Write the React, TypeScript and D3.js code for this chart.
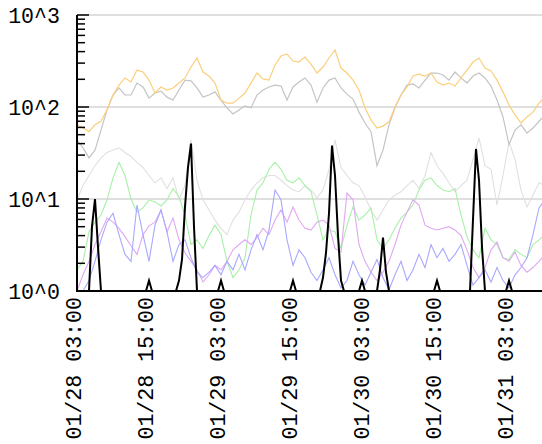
import React, { useEffect, useRef } from 'react';
import * as d3 from 'd3';

// hourly samples, first one at 01/28 03:00
const startTime = new Date(2024, 0, 28, 3, 0);

const orange = [64, 59, 54, 64, 70, 93, 135, 173, 207, 187, 252, 240, 196, 142, 165, 153, 161, 182, 207, 272,
  341, 240, 217, 182, 119, 110, 110, 125, 142, 182, 234, 202, 196, 286, 358, 377, 316, 308, 349, 293,
  234, 272, 341, 417, 265, 234, 196, 153, 98, 72, 59, 62, 69, 100, 135, 165, 217, 228, 217, 234,
  187, 173, 182, 169, 207, 252, 308, 341, 265, 246, 196, 146, 105, 82, 67, 78, 88, 110, 128];

const gray = [44, 36, 28, 34, 56, 93, 135, 161, 135, 135, 182, 165, 125, 142, 149, 128, 119, 153, 196, 192,
  161, 128, 135, 146, 119, 98, 84, 93, 103, 98, 135, 153, 165, 173, 169, 119, 165, 187, 207, 173,
  113, 161, 196, 207, 161, 138, 122, 88, 67, 54, 23, 34, 64, 98, 135, 173, 178, 161, 196, 234,
  234, 223, 196, 240, 207, 182, 217, 234, 207, 169, 119, 78, 39, 56, 64, 52, 59, 70, 82];

const lightGray = [9.8, 14, 18, 23, 28, 32, 34, 36, 32, 29, 25, 22, 18, 15, 17, 13, 17, 9.8, 14, 44,
  16, 9.8, 7.6, 5.9, 4.8, 4.1, 5.9, 7.2, 9.8, 12.5, 15, 17, 18, 18, 16, 14, 12.5, 12, 14, 12.5,
  10.3, 12.5, 21, 44, 22, 18, 15, 14, 10.5, 7.6, 5.9, 7.6, 9.8, 11, 12, 14, 16, 13, 18, 32,
  23, 19, 15, 12, 14, 16, 27, 46, 23, 21, 8.6, 18, 42, 27, 12.5, 8.2, 11, 15, 14];

const green = [1.7, 2.1, 4.4, 5.6, 6.7, 9.8, 17, 25, 18, 10, 7.2, 8, 9.8, 9.3, 8.4, 9.8, 13, 10.5, 6.7, 3.2,
  3.6, 2.9, 4, 5.2, 4.1, 2.1, 1.4, 1.7, 2.3, 6.7, 12.5, 15, 21, 25, 21, 16, 15, 17, 14, 12,
  6.7, 3.6, 4.6, 4.4, 2.9, 5.2, 8.2, 5.9, 6.7, 8, 3.6, 2.9, 3.6, 4.8, 6.2, 7.2, 8.6, 12.5, 16, 17,
  14, 12.5, 12, 13, 6.7, 3.9, 2.8, 2.3, 4.8, 3.6, 3.2, 2.3, 2.2, 2.8, 2.5, 2.3, 3.2, 3.6, 4.1];

const purple = [1, 1.5, 2.1, 3.2, 4.4, 6.2, 5.6, 4.8, 3.9, 3.1, 2.5, 4.1, 5.1, 5.6, 7.6, 4.4, 6.2, 3.6, 2.6, 2.1,
  1.7, 1.25, 1.5, 1.9, 1.7, 2.1, 2.8, 3.2, 3.6, 3.2, 3.8, 4.8, 4.1, 5.9, 7.6, 5.6, 8.2, 5.9, 4.8, 4.6,
  5.6, 5.9, 5.2, 2.9, 2.65, 11.6, 9.8, 3.2, 2.1, 1.6, 1.3, 1.6, 2.1, 3.2, 5.2, 7.2, 9.8, 8.6, 5.2, 4.8,
  4.6, 4.8, 5, 4.6, 4, 2.8, 1.8, 1.4, 1.8, 2.8, 3.4, 2.3, 2.1, 2.65, 1.9, 1.6, 1.8, 2.1, 2.5];

const blue = [1, 1, 1.3, 2.1, 3.6, 5.6, 7, 4.1, 2.5, 2.1, 8.6, 4.1, 2.1, 5.2, 7.6, 4.4, 2.1, 3.2, 3.6, 2.3,
  1.6, 1.4, 1.6, 1.9, 1.5, 2.1, 1.7, 2.5, 1.7, 2.8, 4.1, 2.8, 4.6, 12.5, 9.8, 3.6, 1.9, 2.8, 2.3, 1.6,
  1.3, 1.7, 2.3, 1.5, 1.08, 1.3, 2.1, 1.5, 1.16, 1.6, 2.2, 1.4, 1.03, 1.5, 2.1, 1.3, 1.7, 2.5, 1.8, 3.2,
  2.3, 2.9, 2.1, 2.5, 3.2, 1.9, 1.16, 1.4, 1.7, 1.25, 1.8, 1.3, 1.08, 1.5, 1.8, 2.3, 4.1, 8, 9.8];

// half-hourly samples
const black = [
  1, 1, 1, 1, 1, 5, 10, 3, 1, 1, 1, 1, 1, 1, 1, 1, 1, 1, 1, 1,
  1, 1, 1, 1, 1.3, 1, 1, 1, 1, 1, 1, 1, 1, 1, 1.3, 2.2, 8.2, 22, 40, 5,
  1, 1, 1, 1, 1, 1, 1, 1, 1.3, 1, 1, 1, 1, 1, 1, 1, 1, 1, 1, 1,
  1, 1, 1, 1, 1, 1, 1, 1, 1, 1, 1, 1, 1.3, 1, 1, 1, 1, 1, 1, 1,
  1, 1, 1.4, 2.6, 7, 38, 18, 4, 1.3, 1, 1, 1, 1, 1, 1, 1.3, 1, 1, 1, 1,
  1, 1.7, 3.8, 1.6, 1, 1, 1, 1, 1, 1, 1, 1, 1, 1, 1, 1, 1, 1, 1, 1,
  1.3, 1, 1, 1, 1, 1, 1, 1, 1, 1, 1, 1, 6, 35, 16, 3, 1, 1, 1, 1,
  1, 1, 1, 1, 1.3, 1, 1, 1, 1, 1, 1, 1, 1, 1, 1, 1];

const yTickValues = [1, 10, 100, 1000];
const yTickLabels = ['10^0', '10^1', '10^2', '10^3'];
const xTickHours = [0, 12, 24, 36, 48, 60, 72];
const xTickLabels = ['01/28 03:00', '01/28 15:00', '01/29 03:00', '01/29 15:00', '01/30 03:00', '01/30 15:00', '01/31 03:00'];

const seriesList = [
  { values: lightGray, step: 1, color: '#e0e0e0', width: 1.1 },
  { values: green, step: 1, color: '#a8f0a8', width: 1.1 },
  { values: purple, step: 1, color: '#e0a8f0', width: 1.1 },
  { values: blue, step: 1, color: '#a8a8ff', width: 1.1 },
  { values: gray, step: 1, color: '#c4c4c4', width: 1.2 },
  { values: orange, step: 1, color: '#fbcf7c', width: 1.2 },
  { values: black, step: 0.5, color: '#000000', width: 2 },
];

const font = '"Liberation Mono", "DejaVu Sans Mono", monospace';

const App = () => {
  const ref = useRef(null);

  useEffect(() => {
    const width = 542;
    const left = 77, top = 15, bottom = 291;
    const svg = d3.select(ref.current);
    svg.selectAll('*').remove();

    const hour = (h) => new Date(startTime.getTime() + h * 3600e3);
    const x = d3.scaleTime().domain([startTime, hour(77.5)]).range([left, width]);
    const y = d3.scaleLog().domain([1, 1000]).range([bottom, top]).clamp(true);

    // grid
    svg.append('g')
      .selectAll('line')
      .data(yTickValues.slice(1))
      .enter().append('line')
      .attr('x1', left).attr('x2', width)
      .attr('y1', d => y(d)).attr('y2', d => y(d))
      .attr('stroke', '#d4d4d4').attr('stroke-width', 1.5);

    // series
    seriesList.forEach(s => {
      const line = d3.line()
        .x((d, i) => x(hour(i * s.step)))
        .y(d => y(Math.max(1, d)));
      svg.append('path')
        .attr('d', line(s.values))
        .attr('fill', 'none')
        .attr('stroke', s.color)
        .attr('stroke-width', s.width);
    });

    // y axis
    svg.append('line')
      .attr('x1', left).attr('x2', left).attr('y1', top).attr('y2', bottom + 1)
      .attr('stroke', '#000').attr('stroke-width', 2);
    svg.append('g')
      .selectAll('line')
      .data(y.ticks())
      .enter().append('line')
      .attr('x1', left)
      .attr('x2', d => Number.isInteger(Math.log10(d)) ? left + 12 : left + 8)
      .attr('y1', d => y(d)).attr('y2', d => y(d))
      .attr('stroke', '#000').attr('stroke-width', 1.5);
    svg.append('g')
      .selectAll('text')
      .data(yTickValues)
      .enter().append('text')
      .attr('x', 60)
      .attr('y', d => y(d) + 2)
      .attr('text-anchor', 'end')
      .attr('dominant-baseline', 'central')
      .style('font-family', font)
      .style('font-size', '21.6px')
      .style('fill', '#000')
      .text((d, i) => yTickLabels[i]);

    // x axis
    svg.append('line')
      .attr('x1', left - 1).attr('x2', width).attr('y1', bottom).attr('y2', bottom)
      .attr('stroke', '#000').attr('stroke-width', 2);
    svg.append('g')
      .selectAll('text')
      .data(xTickHours)
      .enter().append('text')
      .attr('transform', d => `translate(${x(hour(d)) + 3.5},${bottom + 6}) rotate(-90)`)
      .attr('text-anchor', 'end')
      .style('font-family', font)
      .style('font-size', '21.6px')
      .style('fill', '#000')
      .text((d, i) => xTickLabels[i]);
  }, []);

  return (
    <svg ref={ref} width={542} height={444}
      style={{ position: 'absolute', left: 0, top: 0, background: '#fff' }} />
  );
};

export default App;
